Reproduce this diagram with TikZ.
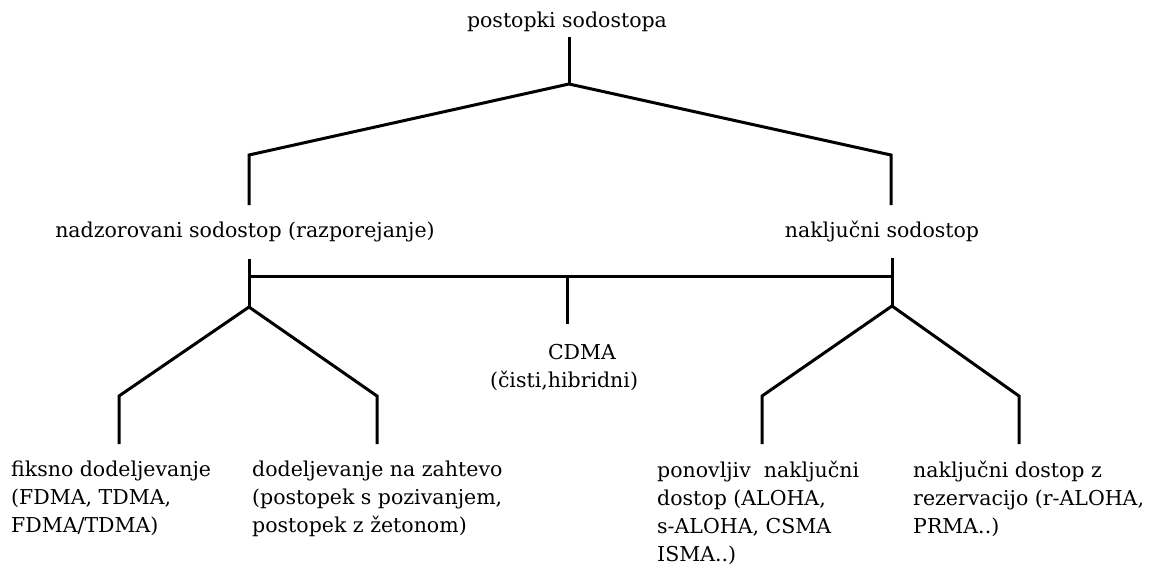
\documentclass[tikz,border=0pt]{standalone}
\usepackage{fontspec}
\setmainfont{DejaVu Serif}
\begin{document}
\begin{tikzpicture}[x=1pt,y=-1pt,
  branch/.style={line width=3pt, line join=miter},
  lbl/.style={inner sep=0pt, font=\fontsize{20.5}{28}\selectfont},
  leaf/.style={lbl, anchor=north west, align=left}]
\useasboundingbox (0,0) rectangle (1157,568);

% labels
\node[lbl] (root) at (567,22) {postopki sodostopa};
\node[lbl] (ctrl) at (245,232) {nadzorovani sodostop (razporejanje)};
\node[lbl] (rand) at (882,232) {naključni sodostop};
\node[lbl, anchor=north, align=center] (cdma) at (564,344)
  {\hspace*{36pt}CDMA\\(čisti,hibridni)};
\node[leaf] (fix) at (11,461) {fiksno dodeljevanje\\(FDMA, TDMA,\\FDMA/TDMA)};
\node[leaf] (dem) at (252,461) {dodeljevanje na zahtevo\\(postopek s pozivanjem,\\postopek z žetonom)};
\node[leaf] (rep) at (657,461) {ponovljiv\ \ naključni\\dostop (ALOHA,\\s-ALOHA, CSMA\\ISMA..)};
\node[leaf] (res) at (913,461) {naključni dostop z\\rezervacijo (r-ALOHA,\\PRMA..)};

% junction points of the tree
\coordinate (rootA) at (569,37);
\coordinate (rootB) at (569,84);
\coordinate (ctrlT) at (249,155);
\coordinate (ctrlE) at (249,205);
\coordinate (randT) at (891,155);
\coordinate (randE) at (891,205);

\coordinate (ctrlS) at (249,259);
\coordinate (ctrlB) at (249,307);
\coordinate (randS) at (892,258);
\coordinate (randB) at (892,306);
\coordinate (barL) at (249,276);
\coordinate (barR) at (892,276);
\coordinate (cdmaT) at (567,276);
\coordinate (cdmaE) at (567,324);

\coordinate (fixT) at (119,396);
\coordinate (fixE) at (119,444);
\coordinate (demT) at (377,396);
\coordinate (demE) at (377,444);
\coordinate (repT) at (762,396);
\coordinate (repE) at (762,444);
\coordinate (resT) at (1019,396);
\coordinate (resE) at (1019,444);

% branches
\draw[branch] (rootA) -- (rootB);
\draw[branch] (ctrlE) -- (ctrlT) -- (rootB) -- (randT) -- (randE);
\draw[branch] (ctrlS) -- (ctrlB);
\draw[branch] (randS) -- (randB);
\draw[branch] (barL) -- (barR);
\draw[branch] (cdmaT) -- (cdmaE);
\draw[branch] (fixE) -- (fixT) -- (ctrlB) -- (demT) -- (demE);
\draw[branch] (repE) -- (repT) -- (randB) -- (resT) -- (resE);
\end{tikzpicture}
\end{document}
